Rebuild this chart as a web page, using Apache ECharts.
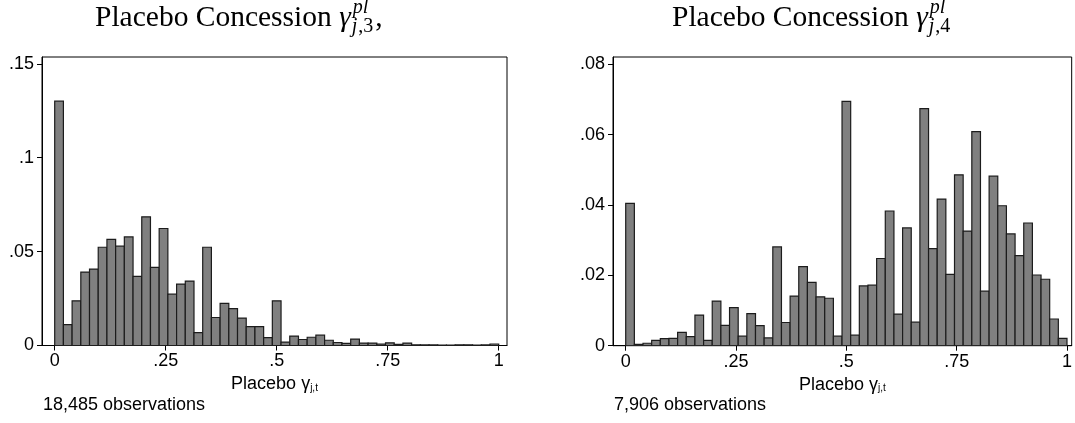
<!DOCTYPE html>
<html>
<head>
<meta charset="utf-8">
<script src="https://cdn.jsdelivr.net/npm/echarts@6/dist/echarts.min.js"></script>
<style>
  html, body { margin: 0; padding: 0; background: #fff; }
  #chart { width: 1075px; height: 423px; }
</style>
</head>
<body>
<div id="chart"></div>
<script>
// Histogram of placebo concession shares, 51 equal bins over [0, 1]; heights are fractions.
const binCount = 51;

const sharesConcession3 = [
  0.1301, 0.0111, 0.0238, 0.0391, 0.0407, 0.0523, 0.0565, 0.0529, 0.0578, 0.0368,
  0.0685, 0.0416, 0.0623, 0.0273, 0.0327, 0.0343, 0.0069, 0.0523, 0.0149, 0.0224,
  0.0196, 0.0146, 0.0101, 0.0101, 0.0042, 0.0238, 0.0018, 0.0050, 0.0032, 0.0044,
  0.0055, 0.0028, 0.0016, 0.0011, 0.0034, 0.0013, 0.0013, 0.0007, 0.0014, 0.0006,
  0.0013, 0.0004, 0.0003, 0.0003, 0.0002, 0.0002, 0.0004, 0.0004, 0.0002, 0.0003,
  0.0008
];

const sharesConcession4 = [
  0.0405, 0.0004, 0.0007, 0.0015, 0.0020, 0.0021, 0.0038, 0.0026, 0.0087, 0.0015,
  0.0127, 0.0058, 0.0108, 0.0027, 0.0091, 0.0057, 0.0022, 0.0281, 0.0066, 0.0141,
  0.0225, 0.0180, 0.0139, 0.0135, 0.0027, 0.0695, 0.0030, 0.0170, 0.0172, 0.0248,
  0.0383, 0.0090, 0.0335, 0.0067, 0.0674, 0.0276, 0.0417, 0.0203, 0.0486, 0.0326,
  0.0609, 0.0155, 0.0482, 0.0398, 0.0318, 0.0256, 0.0349, 0.0201, 0.0189, 0.0076,
  0.0021
];

const xTicks = [0, 0.25, 0.5, 0.75, 1];
const xTickLabels = ['0', '.25', '.5', '.75', '1'];
const yTicks3 = [0, 0.05, 0.1, 0.15];
const yTickLabels3 = ['0', '.05', '.1', '.15'];
const yTicks4 = [0, 0.02, 0.04, 0.06, 0.08];
const yTickLabels4 = ['0', '.02', '.04', '.06', '.08'];

const obsText3 = '18,485 observations';
const obsText4 = '7,906 observations';

const SANS = '"Liberation Sans", Arial, sans-serif';
const SERIF = '"Liberation Serif", "Times New Roman", serif';
const FS = 18;

function binRows(shares) {
  return shares.map((v, i) => [i / binCount, (i + 1) / binCount, v]);
}

function labelFor(ticks, labels) {
  return v => {
    const k = ticks.findIndex(t => Math.abs(t - v) < 1e-9);
    return k >= 0 ? labels[k] : '';
  };
}

function renderBin(params, api) {
  const p0 = api.coord([api.value(0), 0]);
  const p1 = api.coord([api.value(1), api.value(2)]);
  return {
    type: 'rect',
    shape: { x: p0[0], y: p1[1], width: p1[0] - p0[0], height: p0[1] - p1[1] },
    style: { fill: '#808080', stroke: '#1c1c1c', lineWidth: 1.2 }
  };
}

function xAxisFor(gridIndex, min, max) {
  return {
    type: 'value', gridIndex, min, max,
    axisLine: { show: true, onZero: false, lineStyle: { color: '#000', width: 1 } },
    axisTick: { show: true, length: 5, customValues: xTicks, lineStyle: { color: '#000' } },
    axisLabel: {
      customValues: xTicks, formatter: labelFor(xTicks, xTickLabels),
      color: '#000', fontFamily: SANS, fontSize: FS, margin: 7
    },
    splitLine: { show: false },
    name: '{a|Placebo }{g|γ}{s|j,t}',
    nameLocation: 'middle', nameGap: 22,
    nameTextStyle: {
      color: '#000', fontFamily: SANS, fontSize: FS,
      rich: {
        a: { fontFamily: SANS, fontSize: FS, lineHeight: 18, color: '#000' },
        g: { fontFamily: SANS, fontSize: FS, lineHeight: 18, color: '#000' },
        s: { fontFamily: SANS, fontSize: 10, lineHeight: 10, verticalAlign: 'bottom', color: '#000' }
      }
    }
  };
}

function yAxisFor(gridIndex, max, ticks, labels) {
  return {
    type: 'value', gridIndex, min: 0, max,
    axisLine: { show: true, onZero: false, lineStyle: { color: '#000', width: 1 } },
    axisTick: { show: true, length: 5, customValues: ticks, lineStyle: { color: '#000' } },
    axisLabel: {
      customValues: ticks, formatter: labelFor(ticks, labels),
      color: '#000', fontFamily: SANS, fontSize: FS, margin: 8
    },
    splitLine: { show: false }
  };
}

// Panel titles: serif text with a gamma carrying a stacked superscript and subscript.
const measureCtx = document.createElement('canvas').getContext('2d');
function textWidth(str, font) {
  measureCtx.font = font;
  return measureCtx.measureText(str).width;
}
function atBaseline(base, size) { return base - 0.34 * size; }

function panelTitle(x0, base, subDigit, trailing) {
  const mainSize = 29.5, smallSize = 20;
  const mainFont = mainSize + 'px ' + SERIF;
  const italFont = 'italic ' + mainSize + 'px ' + SERIF;
  const smallItal = 'italic ' + smallSize + 'px ' + SERIF;
  const smallUp = smallSize + 'px ' + SERIF;
  const lead = 'Placebo Concession ';
  const xg = x0 + textWidth(lead, mainFont);
  const xs = xg + textWidth('γ', italFont) + 1;
  const wj = textWidth('j', smallItal);
  const wRest = textWidth(',' + subDigit, smallUp);
  const els = [
    { type: 'text', style: { text: lead, x: x0, y: atBaseline(base, mainSize), font: mainFont, fill: '#000', verticalAlign: 'middle' } },
    { type: 'text', style: { text: 'γ', x: xg, y: atBaseline(base, mainSize), font: italFont, fill: '#000', verticalAlign: 'middle' } },
    { type: 'text', style: { text: 'pl', x: xs + 1, y: atBaseline(base - 13, smallSize), font: smallItal, fill: '#000', verticalAlign: 'middle' } },
    { type: 'text', style: { text: 'j', x: xs, y: atBaseline(base + 6, smallSize), font: smallItal, fill: '#000', verticalAlign: 'middle' } },
    { type: 'text', style: { text: ',' + subDigit, x: xs + wj + 1, y: atBaseline(base + 6, smallSize), font: smallUp, fill: '#000', verticalAlign: 'middle' } }
  ];
  if (trailing) {
    els.push({ type: 'text', style: { text: trailing, x: xs + wj + wRest + 3, y: atBaseline(base, mainSize), font: mainFont, fill: '#000', verticalAlign: 'middle' } });
  }
  return els;
}

function noteText(x, base, str) {
  return { type: 'text', style: { text: str, x, y: atBaseline(base, FS), font: FS + 'px ' + SANS, fill: '#000', verticalAlign: 'middle' } };
}

const chart = echarts.init(document.getElementById('chart'), null, { renderer: 'canvas' });

chart.setOption({
  animation: false,
  backgroundColor: '#fff',
  grid: [
    { left: 42, top: 57, width: 465, height: 288.5, show: true, borderColor: '#000', borderWidth: 1, containLabel: false },
    { left: 613, top: 57, width: 461, height: 288.7, show: true, borderColor: '#000', borderWidth: 1, containLabel: false }
  ],
  xAxis: [
    xAxisFor(0, -0.0286, 1.0187),
    xAxisFor(1, -0.0288, 1.0106)
  ],
  yAxis: [
    yAxisFor(0, 0.1536, yTicks3, yTickLabels3),
    yAxisFor(1, 0.0821, yTicks4, yTickLabels4)
  ],
  series: [
    {
      type: 'custom', xAxisIndex: 0, yAxisIndex: 0,
      renderItem: renderBin, encode: { x: [0, 1], y: 2 },
      data: binRows(sharesConcession3), clip: true
    },
    {
      type: 'custom', xAxisIndex: 1, yAxisIndex: 1,
      renderItem: renderBin, encode: { x: [0, 1], y: 2 },
      data: binRows(sharesConcession4), clip: true
    }
  ],
  graphic: [
    ...panelTitle(95, 28, '3', ','),
    ...panelTitle(672, 28, '4', ''),
    noteText(43, 411, obsText3),
    noteText(614, 411, obsText4)
  ]
});
</script>
</body>
</html>
